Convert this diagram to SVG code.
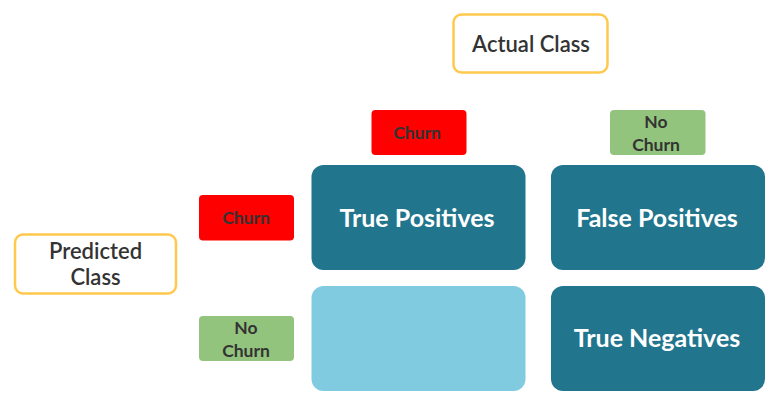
<svg xmlns="http://www.w3.org/2000/svg" width="780" height="415" viewBox="0 0 780 415">
<style>
.lbl{fill:#fff;stroke:#FFC94D;stroke-width:2.5}
.lt{font-family:Lato,"Liberation Sans",sans-serif;font-weight:600;fill:#333;text-anchor:middle;font-size:22px}
.cell{fill:#21758D}
.ct{font-family:Lato,"Liberation Sans",sans-serif;font-weight:700;fill:#fff;text-anchor:middle;font-size:25px}
.red{fill:#FF0000}
.grn{fill:#93C47D}
.st{font-family:Lato,"Liberation Sans",sans-serif;font-weight:700;fill:#333;text-anchor:middle;font-size:17.5px}
</style>
<rect width="780" height="415" fill="#fff"/>
<g id="actual-class"><rect class="lbl" x="453.5" y="14.5" width="154" height="58" rx="8"/><text class="lt" x="531" y="52">Actual Class</text></g>
<g id="predicted-class"><rect class="lbl" x="15" y="234.5" width="161" height="59" rx="8"/><text class="lt" x="95.5" y="259">Predicted</text><text class="lt" x="95.5" y="285">Class</text></g>
<g id="actual-churn"><rect class="red" x="371.5" y="110" width="95" height="45" rx="4"/><text class="st" x="417" y="139">Churn</text></g>
<g id="actual-nochurn"><rect class="grn" x="610" y="110" width="95.5" height="45" rx="4"/><text class="st" x="656" y="128">No</text><text class="st" x="656" y="151">Churn</text></g>
<g id="pred-churn"><rect class="red" x="199" y="195" width="95" height="45.5" rx="4"/><text class="st" x="246" y="224">Churn</text></g>
<g id="pred-nochurn"><rect class="grn" x="199" y="316" width="95" height="45" rx="4"/><text class="st" x="246" y="334">No</text><text class="st" x="246" y="357">Churn</text></g>
<g id="true-positives"><rect class="cell" x="311.5" y="165" width="214" height="105" rx="12"/><text class="ct" x="417" y="227">True Positives</text></g>
<g id="false-positives"><rect class="cell" x="551" y="165" width="214" height="105" rx="12"/><text class="ct" x="657" y="227">False Positives</text></g>
<g id="false-negatives"><rect fill="#80CBE0" x="311.5" y="286" width="214" height="105" rx="12"/></g>
<g id="true-negatives"><rect class="cell" x="551" y="286" width="214" height="105" rx="12"/><text class="ct" x="657" y="347">True Negatives</text></g>
<g id="connectors"></g>
</svg>
